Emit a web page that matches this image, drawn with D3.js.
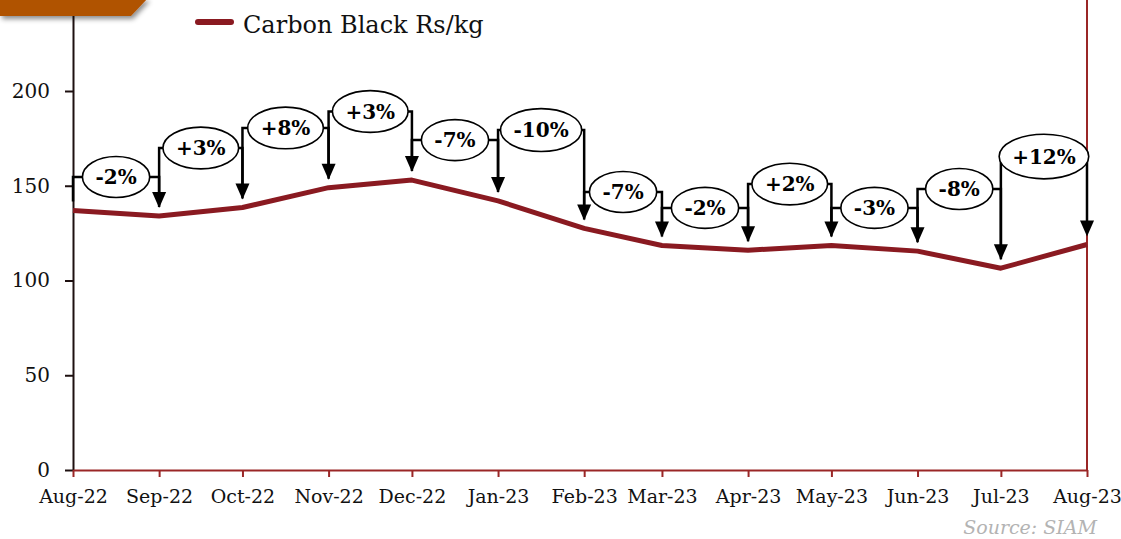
<!DOCTYPE html>
<html>
<head>
<meta charset="utf-8">
<script src="https://cdn.jsdelivr.net/npm/d3@7"></script>
<style>
  html, body { margin: 0; padding: 0; background: #ffffff; }
  svg { display: block; font-family: "DejaVu Serif", Georgia, serif; }
</style>
</head>
<body>
<svg id="chart" width="1121" height="539"></svg>
<script>
// Monthly carbon black price (Rs/kg) and month-on-month change labels
const months = ["Aug-22", "Sep-22", "Oct-22", "Nov-22", "Dec-22", "Jan-23", "Feb-23",
                "Mar-23", "Apr-23", "May-23", "Jun-23", "Jul-23", "Aug-23"];
const monthStarts = ["2022-08-01", "2022-09-01", "2022-10-01", "2022-11-01", "2022-12-01",
                     "2023-01-01", "2023-02-01", "2023-03-01", "2023-04-01", "2023-05-01",
                     "2023-06-01", "2023-07-01", "2023-08-01"];
const carbonBlack = [137, 134, 138.5, 149, 153, 142, 127.5, 118.5, 116, 118.5, 115.5, 106.5, 119];
const changeLabels = ["-2%", "+3%", "+8%", "+3%", "-7%", "-10%", "-7%", "-2%", "+2%", "-3%", "-8%", "+12%"];
// level (in Rs/kg) at which each change bubble sits
const bubbleLevels = [154.6, 169.9, 180.5, 189.2, 174.1, 179.4, 146.7, 138.3, 150.9, 138.3, 148.3, 165.4];
const yTickValues = [0, 50, 100, 150, 200];
const seriesName = "Carbon Black Rs/kg";
const sourceNote = "Source: SIAM";

const parse = d3.timeParse("%Y-%m-%d");
const dates = monthStarts.map(parse);

const svg = d3.select("#chart");
const lineColor = "#8a1a21";
const axisRed = "#9a2626";

const x = d3.scaleTime()
  .domain([dates[0], dates[dates.length - 1]])
  .range([73, 1087]);
const y = d3.scaleLinear()
  .domain([0, 250])
  .range([470, -3.75]);

const defs = svg.append("defs");
const shadow = defs.append("filter").attr("id", "tabShadow")
  .attr("x", "-20%").attr("y", "-50%").attr("width", "140%").attr("height", "250%");
shadow.append("feDropShadow")
  .attr("dx", 2).attr("dy", 3).attr("stdDeviation", 2.5)
  .attr("flood-color", "#000").attr("flood-opacity", 0.45);

// right-hand frame line
svg.append("line")
  .attr("x1", x.range()[1]).attr("x2", x.range()[1])
  .attr("y1", y(250)).attr("y2", y(0))
  .attr("stroke", axisRed).attr("stroke-width", 2);

// y axis
const yAxis = svg.append("g")
  .attr("transform", `translate(${x.range()[0]},0)`)
  .call(d3.axisLeft(y).tickValues(yTickValues).tickSize(8).tickSizeOuter(0).tickPadding(15));
yAxis.select(".domain").attr("stroke", "#1e1010").attr("stroke-width", 2);
yAxis.selectAll(".tick line").attr("stroke", "#1e1010").attr("stroke-width", 2);
yAxis.selectAll(".tick text")
  .attr("font-family", "DejaVu Serif").attr("font-size", 20).attr("fill", "#111");

// x axis
const xAxis = svg.append("g")
  .attr("transform", `translate(0,${y(0)})`)
  .call(d3.axisBottom(x).tickValues(dates).tickSize(7).tickSizeOuter(0)
    .tickPadding(13).tickFormat((d, i) => months[i]));
xAxis.select(".domain").attr("stroke", axisRed).attr("stroke-width", 2);
xAxis.selectAll(".tick line").attr("stroke", axisRed).attr("stroke-width", 2);
xAxis.selectAll(".tick text")
  .attr("font-family", "DejaVu Serif").attr("font-size", 19).attr("fill", "#111");

// price line
svg.append("path")
  .datum(carbonBlack)
  .attr("fill", "none")
  .attr("stroke", lineColor)
  .attr("stroke-width", 5)
  .attr("stroke-linejoin", "round")
  .attr("d", d3.line().x((d, i) => x(dates[i])).y(d => y(d)));

// change callouts: bracket from one month to the next with a bubble in between
const arrowGap = 8, arrowH = 16, arrowW = 14;
const callouts = svg.append("g");
changeLabels.forEach((label, i) => {
  const x0 = x(dates[i]), x1 = x(dates[i + 1]);
  const cy = y(bubbleLevels[i]);
  const g = callouts.append("g");
  // left leg (down towards the starting month) and right leg with arrow
  g.append("path")
    .attr("fill", "none").attr("stroke", "#000").attr("stroke-width", 2.5)
    .attr("d", `M${x0},${y(carbonBlack[i]) - 9}V${cy}H${x1}V${y(carbonBlack[i + 1]) - arrowGap - arrowH + 1}`);
  const tipY = y(carbonBlack[i + 1]) - arrowGap;
  g.append("path")
    .attr("fill", "#000")
    .attr("d", `M${x1 - arrowW / 2},${tipY - arrowH}L${x1 + arrowW / 2},${tipY - arrowH}L${x1},${tipY}Z`);
  const cx = (x0 + x1) / 2;
  const ell = g.append("ellipse").attr("cx", cx).attr("cy", cy)
    .attr("fill", "#fff").attr("stroke", "#000").attr("stroke-width", 1.6);
  const t = g.append("text")
    .attr("x", cx).attr("y", cy).attr("dy", "0.36em")
    .attr("text-anchor", "middle")
    .attr("font-family", "DejaVu Serif").attr("font-weight", "bold").attr("font-size", 20)
    .attr("fill", "#000")
    .text(label);
  const w = t.node().getComputedTextLength();
  const rx = w / 2 + 13;
  ell.attr("rx", rx).attr("ry", 20.5 + Math.max(0, rx - 36) * 0.2);
});

// corner tab
svg.append("path")
  .attr("d", "M0,-2H148L131,16H0Z")
  .attr("fill", "#b05200")
  .attr("filter", "url(#tabShadow)");

// legend
const legend = svg.append("g");
legend.append("line")
  .attr("x1", 198).attr("x2", 231).attr("y1", 22).attr("y2", 22)
  .attr("stroke", lineColor).attr("stroke-width", 6).attr("stroke-linecap", "round");
legend.append("text")
  .attr("x", 243).attr("y", 33)
  .attr("font-family", "DejaVu Serif").attr("font-size", 24).attr("fill", "#111")
  .text(seriesName);

// source note
svg.append("text")
  .attr("x", 1097).attr("y", 534)
  .attr("text-anchor", "end")
  .attr("font-family", "DejaVu Serif").attr("font-style", "italic").attr("font-size", 19)
  .attr("fill", "#b3b3b3")
  .text(sourceNote);
</script>
</body>
</html>
